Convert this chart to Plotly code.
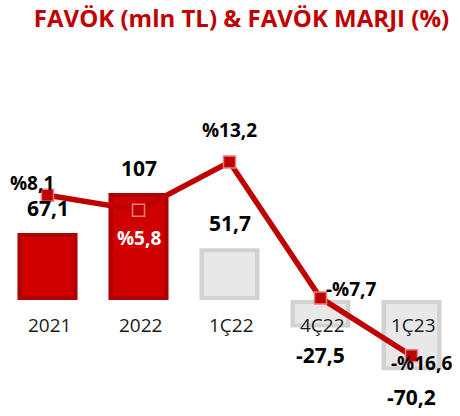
import plotly.graph_objects as go

# Data
categories = ["2021", "2022", "1Ç22", "4Ç22", "1Ç23"]
favok = [67.1, 107, 51.7, -27.5, -70.2]
favok_labels = ["67,1", "107", "51,7", "-27,5", "-70,2"]
margin = [8.1, 5.8, 13.2, -7.7, -16.6]
margin_labels = ["%8,1", "%5,8", "%13,2", "-%7,7", "-%16,6"]

RED = "#C00000"
bar_outer = ["#B00000", "#B00000", "#D2D2D2", "#D2D2D2", "#D2D2D2"]
bar_inner = ["#CE0000", "#CE0000", "#E8E8E8", "#E8E8E8", "#E8E8E8"]

x = list(range(len(categories)))
inset = 4
inner_vals = [v - inset if v > 0 else v + inset for v in favok]
inner_base = [inset if v > 0 else -inset for v in favok]

fig = go.Figure()

# Bevelled bars: darker outer block with a lighter inner face
fig.add_trace(go.Bar(x=x, y=favok, width=0.66, marker=dict(color=bar_outer, line=dict(width=0)),
                     hoverinfo="skip", showlegend=False))
fig.add_trace(go.Bar(x=x, y=[v - b for v, b in zip(inner_vals, inner_base)], base=inner_base,
                     width=0.56, marker=dict(color=bar_inner, line=dict(width=0)),
                     hoverinfo="skip", showlegend=False))

# Margin line on the secondary axis
fig.add_trace(go.Scatter(x=x, y=margin, yaxis="y2", mode="lines+markers",
                         line=dict(color=RED, width=5.5),
                         marker=dict(symbol="square", size=12, color=RED,
                                     line=dict(color="#E88080", width=1.5)),
                         hoverinfo="skip", showlegend=False))

annotations = []
font_val = dict(family="Open Sans, Arial", size=21, color="black")

# FAVÖK value labels
for xi, v, t in zip(x, favok, favok_labels):
    annotations.append(dict(x=xi, y=v, xref="x", yref="y", text=f"<b>{t}</b>", showarrow=False,
                            font=font_val, yshift=25 if v > 0 else -27))

# Margin labels, offset around each marker
m_offsets = [(-16, 12, "black"), (0, -28, "white"), (0, 32, "black"), (31, 9, "black"), (10, -7, "black")]
for xi, m, t, (dx, dy, c) in zip(x, margin, margin_labels, m_offsets):
    annotations.append(dict(x=xi, y=m, xref="x", yref="y2", text=f"<b>{t}</b>", showarrow=False,
                            font=dict(family="Open Sans, Arial", size=19, color=c),
                            xshift=dx, yshift=dy))

# Category labels just below the zero line
for xi, c in zip(x, categories):
    annotations.append(dict(x=xi, y=0, xref="x", yref="y", text=c, showarrow=False,
                            font=dict(family="Open Sans, Arial", size=19, color="#1a1a1a"),
                            yshift=-25, xshift=2))

fig.update_layout(
    width=460, height=416,
    margin=dict(l=2, r=3, t=60, b=16),
    paper_bgcolor="white", plot_bgcolor="white",
    barmode="overlay",
    title=dict(text="<b>FAVÖK (mln TL) & FAVÖK MARJI (%)</b>", x=0.525, xanchor="center",
               y=0.955, yanchor="middle",
               font=dict(family="Open Sans, Arial", size=24, color=RED)),
    xaxis=dict(range=[-0.5, 4.5], visible=False),
    yaxis=dict(range=[-100, 240], visible=False),
    yaxis2=dict(range=[-23.4, 28.9], overlaying="y", visible=False),
    annotations=annotations,
)

fig.write_html("out.html")
